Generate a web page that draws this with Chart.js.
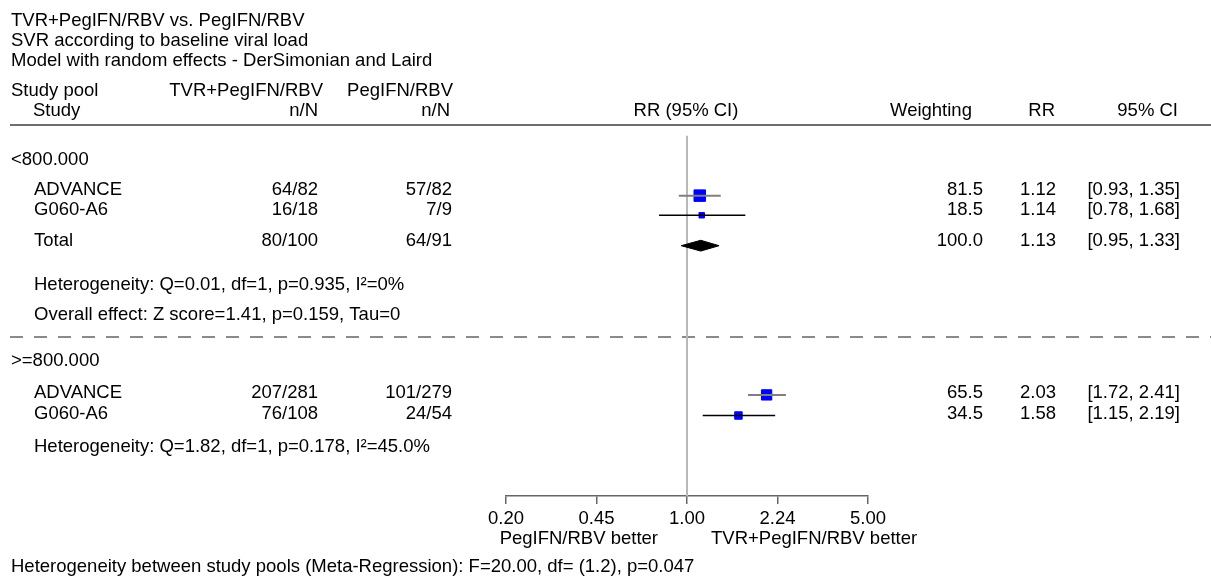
<!DOCTYPE html>
<html>
<head>
<meta charset="utf-8">
<script src="https://cdn.jsdelivr.net/npm/chart.js@4.4.0/dist/chart.umd.min.js"></script>
<style>
    html, body { margin: 0; padding: 0; background: #fff; }
</style>
</head>
<body>
<canvas id="graficoForest" width="1211" height="577"></canvas>
<script>
const titulos = [
    "TVR+PegIFN/RBV vs. PegIFN/RBV",
    "SVR according to baseline viral load",
    "Model with random effects - DerSimonian and Laird",
];
const grupos = ["<800.000", ">=800.000"];
const estudios = ["ADVANCE", "G060-A6", "ADVANCE", "G060-A6"];
const nTVR = ["64/82", "16/18", "207/281", "76/108"];
const nPeg = ["57/82", "7/9", "101/279", "24/54"];
const pesos = [81.5, 18.5, 65.5, 34.5];
const rr = [1.12, 1.14, 2.03, 1.58];
const icBajo = [0.93, 0.78, 1.72, 1.15];
const icAlto = [1.35, 1.68, 2.41, 2.19];

const totalN = ["80/100", "64/91"];
const totalPeso = 100.0;
const totalRR = 1.13;
const totalIC = [0.95, 1.33];

const heterogeneidad = [
    "Heterogeneity: Q=0.01, df=1, p=0.935, I²=0%",
    "Heterogeneity: Q=1.82, df=1, p=0.178, I²=45.0%",
];
const efectoGlobal = "Overall effect: Z score=1.41, p=0.159, Tau=0";
const pieTexto = "Heterogeneity between study pools (Meta-Regression): F=20.00, df= (1.2), p=0.047";

const ticksEje = [0.2, 0.4472, 1, 2.2361, 5];
const ticksTexto = ["0.20", "0.45", "1.00", "2.24", "5.00"];

// filas (posicion vertical en px de cada linea de la tabla)
const filaEstudio = [190, 210, 393, 414];
const filaTotal = 241;
const coloresIC = ["#7f7f7f", "#000000", "#7f7f7f", "#000000"];
const fuente = '"Liberation Sans", Arial, sans-serif';
const tamFuente = 18.5;

Chart.defaults.font.family = fuente;

const datasets = [];

// linea de referencia en RR = 1
datasets.push({
    type: "line",
    data: [{ x: 1, y: 129 }, { x: 1, y: 496 }],
    borderColor: "#b8b8b8",
    borderWidth: 2,
    pointRadius: 0,
    order: 5,
});

// intervalos de confianza
estudios.forEach((estudio, i) => {
    datasets.push({
        type: "line",
        data: [{ x: icBajo[i], y: filaEstudio[i] }, { x: icAlto[i], y: filaEstudio[i] }],
        borderColor: coloresIC[i],
        borderWidth: i % 2 === 0 ? 2 : 1.5,
        pointRadius: 0,
        order: 0,
    });
});

// cuadrados (tamano segun peso)
datasets.push({
    type: "scatter",
    data: rr.map((valor, i) => ({ x: valor, y: filaEstudio[i] })),
    pointStyle: "rect",
    pointRadius: pesos.map((p) => Math.sqrt(p) * 0.9),
    backgroundColor: "#0000ff",
    borderColor: "#0000ff",
    borderWidth: 1,
    order: 1,
});

// rombo del total
datasets.push({
    type: "line",
    data: [
        { x: totalIC[0], y: filaTotal },
        { x: totalRR, y: filaTotal - 5.5 },
        { x: totalIC[1], y: filaTotal },
        { x: totalRR, y: filaTotal + 5.5 },
        { x: totalIC[0], y: filaTotal },
    ],
    borderColor: "#000",
    backgroundColor: "#000",
    borderWidth: 1,
    pointRadius: 0,
    tension: 0,
    fill: "shape",
    order: 1,
});

const textoTabla = {
    id: "textoTabla",
    beforeDatasetsDraw(chart) {
        const ctx = chart.ctx;
        ctx.save();
        ctx.strokeStyle = "#6e6e6e";
        ctx.lineWidth = 2;
        ctx.beginPath();
        ctx.moveTo(10, 125);
        ctx.lineTo(1211, 125);
        ctx.stroke();
        ctx.strokeStyle = "#8a8a8a";
        ctx.setLineDash([13, 11]);
        ctx.beginPath();
        ctx.moveTo(10, 337);
        ctx.lineTo(1211, 337);
        ctx.stroke();
        ctx.restore();
    },
    afterDraw(chart) {
        const ctx = chart.ctx;
        ctx.save();
        ctx.fillStyle = "#000";
        ctx.font = tamFuente + "px " + fuente;
        ctx.textBaseline = "middle";
        const izq = (t, x, y) => { ctx.textAlign = "left"; ctx.fillText(t, x, y); };
        const der = (t, x, y) => { ctx.textAlign = "right"; ctx.fillText(t, x, y); };
        const cen = (t, x, y) => { ctx.textAlign = "center"; ctx.fillText(t, x, y); };

        titulos.forEach((t, i) => izq(t, 11, 21 + i * 20));

        izq("Study pool", 11, 91);
        izq("Study", 33, 111);
        der("TVR+PegIFN/RBV", 323, 91);
        der("n/N", 318, 111);
        der("PegIFN/RBV", 453, 91);
        der("n/N", 450, 111);
        cen("RR (95% CI)", 686, 111);
        izq("Weighting", 890, 111);
        der("RR", 1055, 111);
        der("95% CI", 1178, 111);

        izq(grupos[0], 11, 160);
        izq(grupos[1], 11, 361);

        estudios.forEach((e, i) => {
            const y = filaEstudio[i];
            izq(e, 34, y);
            der(nTVR[i], 318, y);
            der(nPeg[i], 452, y);
            der(pesos[i].toFixed(1), 983, y);
            der(rr[i].toFixed(2), 1056, y);
            der("[" + icBajo[i].toFixed(2) + ", " + icAlto[i].toFixed(2) + "]", 1180, y);
        });

        izq("Total", 34, filaTotal);
        der(totalN[0], 318, filaTotal);
        der(totalN[1], 452, filaTotal);
        der(totalPeso.toFixed(1), 983, filaTotal);
        der(totalRR.toFixed(2), 1056, filaTotal);
        der("[" + totalIC[0].toFixed(2) + ", " + totalIC[1].toFixed(2) + "]", 1180, filaTotal);

        izq(heterogeneidad[0], 34, 285);
        izq(efectoGlobal, 34, 315);
        izq(heterogeneidad[1], 34, 447);

        der("PegIFN/RBV better", 658, 539);
        izq("TVR+PegIFN/RBV better", 711, 539);
        izq(pieTexto, 11, 567);
        ctx.restore();
    },
};

const configForest = {
    data: { datasets: datasets },
    options: {
        responsive: false,
        animation: false,
        layout: { padding: { left: 506, right: 343, top: 0, bottom: 0 } },
        plugins: {
            legend: { display: false },
            tooltip: { enabled: false },
        },
        scales: {
            x: {
                type: "logarithmic",
                position: "bottom",
                min: 0.2,
                max: 5,
                afterBuildTicks: (escala) => {
                    escala.ticks = ticksEje.map((v) => ({ value: v }));
                },
                afterFit: (escala) => {
                    escala.height = 81;
                },
                ticks: {
                    callback: (valor, indice) => ticksTexto[indice],
                    color: "#000",
                    font: { size: tamFuente },
                    padding: 4,
                    maxRotation: 0,
                    autoSkip: false,
                },
                grid: {
                    drawOnChartArea: false,
                    drawTicks: true,
                    tickLength: 8,
                    color: "#666",
                    lineWidth: 1.5,
                },
                border: { color: "#666", width: 1.5 },
            },
            y: {
                type: "linear",
                display: false,
                min: 0,
                max: 496,
                reverse: true,
            },
        },
    },
    plugins: [textoTabla],
};

const chartForest = new Chart(document.getElementById("graficoForest"), configForest);
</script>
</body>
</html>
